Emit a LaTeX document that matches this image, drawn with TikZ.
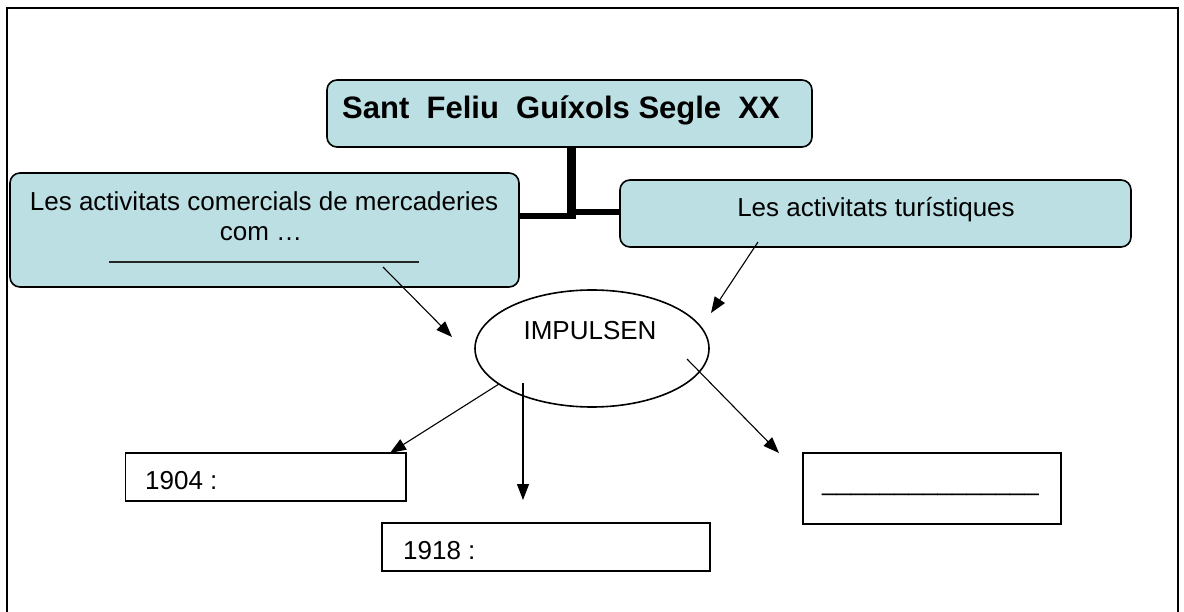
\documentclass[tikz,border=0pt]{standalone}
\usepackage{fontspec}
\setmainfont{Liberation Sans}
\usetikzlibrary{arrows.meta,shapes.geometric}
\definecolor{boxblue}{RGB}{188,223,227}
\begin{document}
\begin{tikzpicture}[x=1pt,y=-1pt,
  bluebox/.style={draw=black, line width=1.6pt, fill=boxblue, rounded corners=10pt, inner sep=0pt},
  whitebox/.style={draw=black, line width=1.6pt, fill=white, inner sep=0pt},
  lbl/.style={font=\fontsize{26}{30}\selectfont, inner sep=0pt},
  ttl/.style={font=\fontsize{31}{35}\selectfont\bfseries, inner sep=0pt},
  arr/.style={-{Triangle[length=16pt,width=12pt]}, line width=1.1pt},
  blank/.style={line width=1.2pt, draw=black!85},
  thick connector/.style={line width=6pt}]
\useasboundingbox (0,0) rectangle (1184,612);
% frame
\draw[line width=2.2pt] (7,630) -- (7,8) -- (1178,8) -- (1178,630);

% boxes
\node[bluebox, minimum width=485pt, minimum height=67pt] (title) at (569.5,113.5) {};
\node[bluebox, minimum width=509pt, minimum height=114pt] (lbox) at (264.5,230) {};
\node[bluebox, minimum width=511pt, minimum height=67pt] (rbox) at (875.5,213.5) {};
\node[draw=black, line width=1.6pt, ellipse, inner sep=0pt, minimum width=234pt, minimum height=117pt] (ell) at (592,348.5) {};
\node[whitebox, minimum width=280.5pt, minimum height=48pt] (b1904) at (265.75,477) {};
\node[whitebox, minimum width=328pt, minimum height=48pt] (b1918) at (546,547) {};
\node[whitebox, minimum width=258pt, minimum height=71pt] (bright) at (932,488.5) {};

% texts
\node[ttl, anchor=base] (ttitle) at (561,118.5) {Sant\ \ Feliu\ \ Guíxols Segle\ \ XX};
\node[lbl, anchor=base] (tl1) at (264,211) {Les activitats comercials de mercaderies};
\node[lbl, anchor=base] (tl2) at (261,241) {com …};
\coordinate (bl1) at (109,262);
\coordinate (bl2) at (419,262);
\draw[blank] (bl1) -- (bl2);
\node[lbl, anchor=base] (tr) at (876,217) {Les activitats turístiques};
\node[lbl, anchor=base] (timp) at (590,339.5) {IMPULSEN};
\node[lbl, anchor=base west] (t1904) at (145,489.5) {1904 :};
\node[lbl, anchor=base west] (t1918) at (403,559.5) {1918 :};
\node[lbl, anchor=base] (tblank) at (930.5,490) {\_\_\_\_\_\_\_\_\_\_\_\_\_\_\_};

% org connector
\coordinate (jv) at (571.5,219);
\coordinate (jl) at (576,216);
\coordinate (jr) at (576,212.5);
\draw[line width=9pt] (title.south -| jv) -- (jv);
\draw[thick connector] (lbox.east |- jl) -- (jl);
\draw[thick connector] (jr) -- (rbox.west |- jr);

% arrows
\coordinate (a1s) at (383,267);  \coordinate (a1e) at (452,337);
\coordinate (a2s) at (758,242);  \coordinate (a2e) at (711,313);
\coordinate (a3s) at (499,384);  \coordinate (a3e) at (390,453);
\coordinate (a4s) at (523,383);  \coordinate (a4e) at (523,500);
\coordinate (a5s) at (687,359);  \coordinate (a5e) at (779,453);
\draw[arr] (a1s) -- (a1e);
\draw[arr] (a2s) -- (a2e);
\draw[arr] (a3s) -- (a3e);
\draw[arr] (a4s) -- (a4e);
\draw[arr] (a5s) -- (a5e);
\end{tikzpicture}
\end{document}
